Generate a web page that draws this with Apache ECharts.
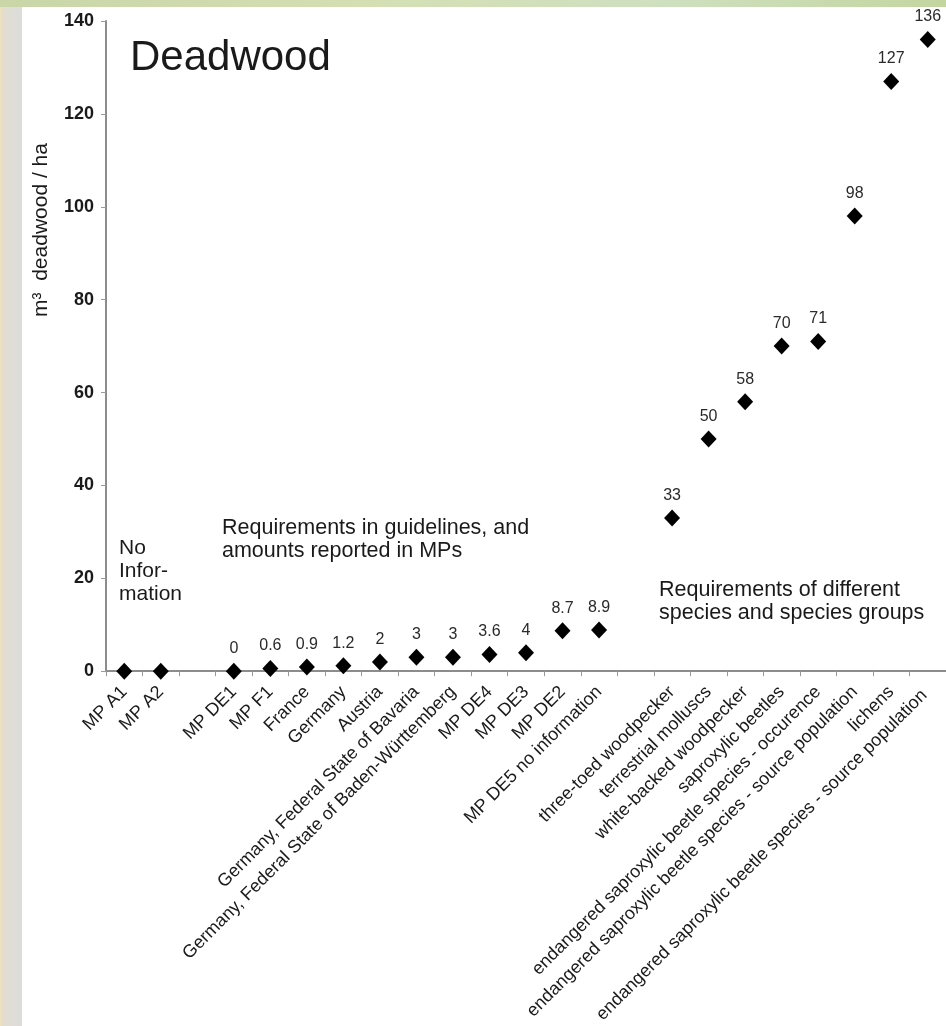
<!DOCTYPE html>
<html>
<head>
<meta charset="utf-8">
<script src="https://cdn.jsdelivr.net/npm/echarts@6/dist/echarts.min.js"></script>
<style>
html,body{margin:0;padding:0;background:#fff;}
#c{width:946px;height:1026px;}
</style>
</head>
<body>
<div id="c"></div>
<script>
const categories = ['MP A1','MP A2','','MP DE1','MP F1','France','Germany','Austria',
  'Germany, Federal State of Bavaria','Germany, Federal State of Baden-Württemberg',
  'MP DE4','MP DE3','MP DE2','MP DE5 no information','',
  'three-toed woodpecker','terrestrial molluscs','white-backed woodpecker','saproxylic beetles',
  'endangered saproxylic beetle species - occurence',
  'endangered saproxylic beetle species - source population',
  'lichens',
  'endangered saproxylic beetle species - source population '];
const values = [0,0,null,0,0.6,0.9,1.2,2,3,3,3.6,4,8.7,8.9,null,33,50,58,70,71,98,127,136];
const showLabel = [false,false,false,true,true,true,true,true,true,true,true,true,true,true,false,true,true,true,true,true,true,true,true];
const yTicks = {min:0, max:140, interval:20};
const yTitle = 'm³  deadwood / ha';
const notes = [
  {text:'Deadwood', x:130, y:58, size:42},
  {text:'No\nInfor-\nmation', x:119, y:571, size:21, lh:23},
  {text:'Requirements in guidelines, and\namounts reported in MPs', x:222, y:540, size:21.5, lh:23},
  {text:'Requirements of different\nspecies and species groups', x:659, y:602, size:21.5, lh:23}
];

const chart = echarts.init(document.getElementById('c'));
const font = 'Liberation Sans, Arial, sans-serif';
chart.setOption({
  backgroundColor:'#ffffff',
  animation:false,
  grid:{left:106, right:0, top:21, bottom:354, containLabel:false},
  xAxis:{
    type:'category', data:categories, boundaryGap:true,
    axisLine:{lineStyle:{color:'#8c8c8c', width:2}},
    axisTick:{show:true, interval:0, length:5, inside:false, lineStyle:{color:'#9a9a9a'}},
    axisLabel:{interval:0, rotate:45, fontSize:18, color:'#1a1a1a', fontFamily:font, margin:18}
  },
  yAxis:{
    type:'value', min:yTicks.min, max:yTicks.max, interval:yTicks.interval,
    axisLine:{show:true, lineStyle:{color:'#8c8c8c', width:2}},
    axisTick:{show:true, length:5, lineStyle:{color:'#9a9a9a'}},
    splitLine:{show:false},
    axisLabel:{fontSize:18, fontWeight:'bold', color:'#1a1a1a', fontFamily:font, margin:12}
  },
  graphic:[
    {type:'rect', shape:{x:0,y:0,width:22,height:1026}, style:{fill:{type:'linear',x:0,y:0,x2:1,y2:0,colorStops:[{offset:0,color:'#f3e3b0'},{offset:0.12,color:'#e2ddd0'},{offset:1,color:'#dcdcdc'}]}}, z:-10},
    {type:'rect', shape:{x:0,y:0,width:946,height:7}, style:{fill:{type:'linear',x:0,y:0,x2:1,y2:0,colorStops:[{offset:0,color:'#c9d6a8'},{offset:0.4,color:'#d4dfb4'},{offset:0.7,color:'#cfe0c0'},{offset:1,color:'#c3d6a0'}]}}, z:-10},
    {type:'text', x:41, y:230, rotation:Math.PI/2,
      style:{text:yTitle, fontSize:21, fontFamily:font, fill:'#1a1a1a', align:'center', verticalAlign:'middle'}}
  ].concat(notes.map(n => ({
    type:'text', left:n.x, top:n.y - (n.lh ? n.lh*n.text.split('\n').length/2 : n.size*0.6),
    style:{text:n.text, fontSize:n.size, fontFamily:font, fill:'#1a1a1a', lineHeight:n.lh || n.size*1.2}
  }))),
  series:[{
    type:'scatter',
    symbol:'diamond', symbolSize:[16,17],
    itemStyle:{color:'#000', opacity:1},
    data: values.map((v,i) => ({value:v, label:{show:showLabel[i]}})),
    label:{position:'top', distance:6, fontSize:16, color:'#2a2a2a', fontFamily:font,
      formatter: p => String(p.value)}
  }]
});
</script>
</body>
</html>
